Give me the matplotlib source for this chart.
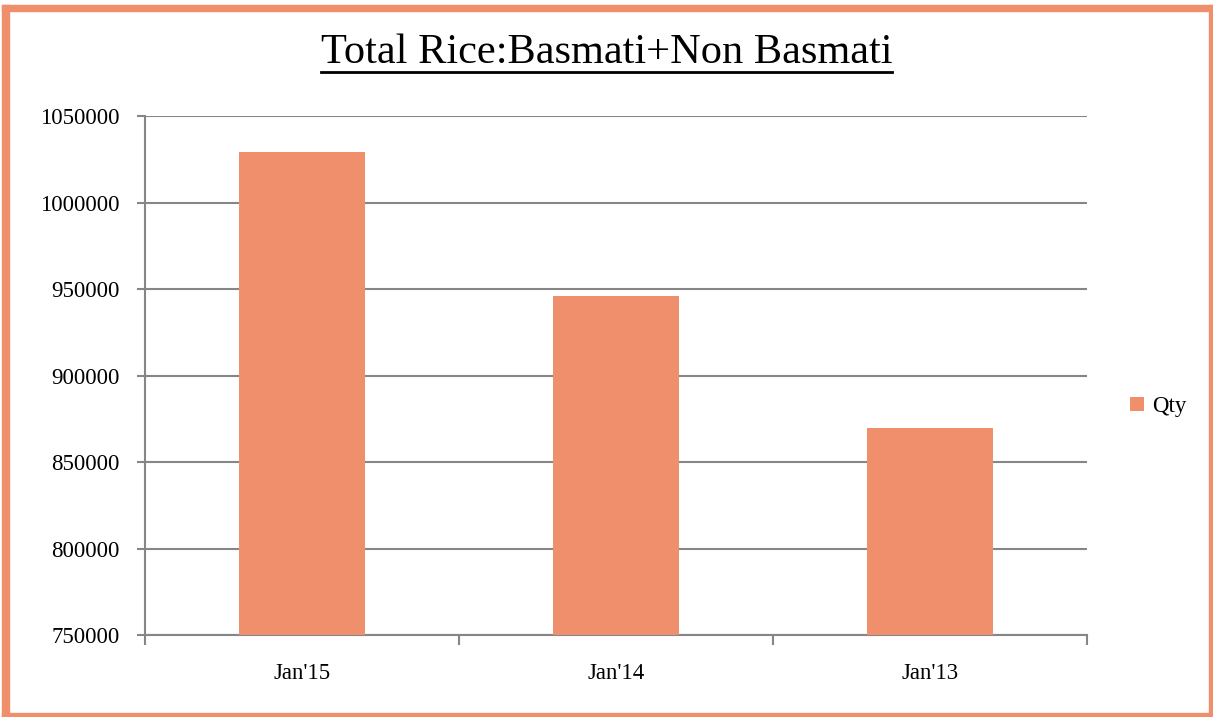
import matplotlib
matplotlib.use('Agg')
from matplotlib import pyplot as plt
from matplotlib.patches import Rectangle
from matplotlib.lines import Line2D

months = ["Jan'15", "Jan'14", "Jan'13"]
qty = [1029200, 946000, 869700]
yticks = [750000, 800000, 850000, 900000, 950000, 1000000, 1050000]

orange = '#EF8F6C'
grid_c = '#868686'

plt.rcParams['font.family'] = ['Liberation Serif', 'DejaVu Serif']

fig = plt.figure(figsize=(12.13, 7.17), dpi=100)
W, H = 1213, 717
ax = fig.add_axes([145 / W, 1 - 635 / H, (1087 - 145) / W, (635 - 116) / H])

x = list(range(len(months)))
ax.bar(x, qty, width=0.4, color=orange, zorder=3, label='Qty')

ax.set_xlim(-0.5, 2.5)
ax.set_ylim(750000, 1050000)
ax.set_yticks(yticks)
ax.set_yticklabels([str(v) for v in yticks], fontsize=16.5)
ax.yaxis.grid(True, color=grid_c, linewidth=1.5, zorder=0)
ax.set_xticks(x)
ax.set_xticklabels(months, fontsize=16.5)
ax.tick_params(axis='x', length=0, pad=20)
ax.tick_params(axis='y', length=6, width=1.5, color=grid_c, pad=12)
# category separator ticks on the x axis
ax.set_xticks([-0.5, 0.5, 1.5, 2.5], minor=True)
ax.tick_params(axis='x', which='minor', length=7, width=1.5, color=grid_c, direction='out')

for s in ['top', 'right']:
    ax.spines[s].set_visible(False)
for s in ['left', 'bottom']:
    ax.spines[s].set_color(grid_c)
    ax.spines[s].set_linewidth(1.5)

ax.legend(loc='center left', bbox_to_anchor=(1.024, 0.44), frameon=False,
          fontsize=16.5, handlelength=0.6, handleheight=0.6, handletextpad=0.35)

# title with underline
t = fig.text(0.5, 1 - 53 / H, 'Total Rice:Basmati+Non Basmati', ha='center', va='center',
             fontsize=30.5)
fig.canvas.draw()
bb = t.get_window_extent()
fig.add_artist(Line2D([bb.x0 / W, bb.x1 / W], [1 - 72 / H, 1 - 72 / H], color='black',
                      linewidth=2, transform=fig.transFigure))

# orange frame around the chart
fig.add_artist(Rectangle((2 / W, 0), 7 / W, 1 - 5 / H, color=orange, transform=fig.transFigure))
fig.add_artist(Rectangle((2 / W, 1 - 11 / H), 1 - 2 / W, 6 / H, color=orange, transform=fig.transFigure))
fig.add_artist(Rectangle((1209 / W, 0), 3 / W, 1 - 5 / H, color=orange, transform=fig.transFigure))
fig.add_artist(Rectangle((2 / W, 0), 1 - 2 / W, 4 / H, color=orange, transform=fig.transFigure))

fig.savefig('out.png', dpi=100)
